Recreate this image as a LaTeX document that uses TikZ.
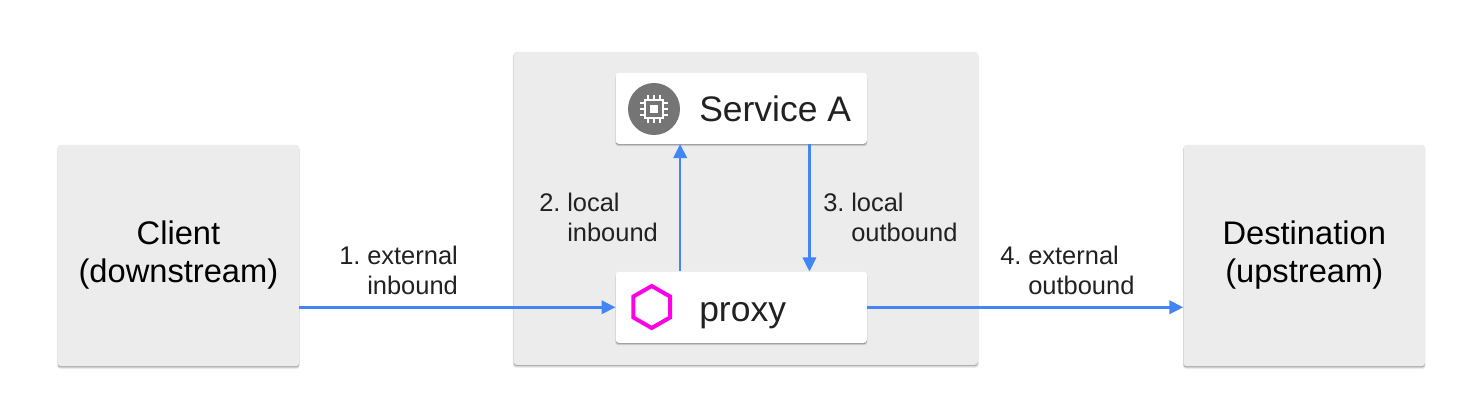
\documentclass[tikz,border=0pt]{standalone}
\usepackage{fontspec}
\setmainfont{Liberation Sans}
\usetikzlibrary{calc,shadows,arrows.meta}
\definecolor{boxgray}{HTML}{ECECEC}
\definecolor{flowblue}{HTML}{4285F4}
\definecolor{hexpink}{HTML}{FF00E6}
\definecolor{chipgray}{HTML}{757575}
\definecolor{inktext}{HTML}{212121}
\tikzset{
  panel/.style={fill=#1,rounded corners=2.2pt,inner sep=0pt,anchor=north west,
    drop shadow={shadow xshift=0pt,shadow yshift=-1.6pt,shadow scale=1.004,fill=black,opacity=.12},
    drop shadow={shadow xshift=0pt,shadow yshift=-1.0pt,fill=black,opacity=.22}},
  bigbox/.style={panel=boxgray,minimum width=181pt,minimum height=166pt,
    font=\fontsize{24.5pt}{28.5pt}\selectfont},
  whitebox/.style={panel=white,minimum width=188.25pt,minimum height=53.25pt},
  svctext/.style={font=\fontsize{26.6pt}{30pt}\selectfont,text=inktext,anchor=base west,inner sep=0pt},
  flowlabel/.style={font=\fontsize{19.1pt}{22.5pt}\selectfont,text=inktext,align=left,anchor=north west,inner sep=0pt},
  flow/.style={draw=flowblue,line width=1.95pt,-{Triangle[length=10.5pt,width=10pt]}},
  pin/.style={draw=white,line width=1.2pt}
}
\newcommand{\hang}[2]{\makebox[21pt][l]{#1}#2}
\newcommand{\bigtext}[2]{\raisebox{-0.7pt}{\parbox{175pt}{\centering #1\\#2}}}
\begin{document}
\begin{tikzpicture}[x=0.75pt,y=-0.75pt]
\useasboundingbox[fill=white] (0,0) rectangle (1467,413);
\node[bigbox] (client) at (57.5,144.5) {\bigtext{Client}{(downstream)}};
\node[bigbox] (dest) at (1183.3,144.5) {\bigtext{Destination}{(upstream)}};
\node[panel=boxgray,minimum width=348pt,minimum height=234.75pt] (host) at (513.5,51.5) {};
\node[whitebox] (svc) at (615.5,72.5) {};
\node[whitebox] (proxy) at (615.5,271.5) {};
% service icon
\fill[chipgray] (654,109) circle (26);
\draw[white,line width=1.5pt] (645,100) rectangle (663,118);
\fill[white] (650,105) rectangle (658,113);
\foreach \d in {-6,0,6}{
  \draw[pin] (654+\d,95) -- (654+\d,100);
  \draw[pin] (654+\d,118) -- (654+\d,123);
  \draw[pin] (640,109+\d) -- (645,109+\d);
  \draw[pin] (663,109+\d) -- (668,109+\d);
}
% proxy icon
\draw[hexpink,line width=3pt,line join=miter]
  (651.7,286) -- (670,296.5) -- (670,317.5) -- (651.7,328) -- (633.4,317.5) -- (633.4,296.5) -- cycle;
\node[svctext] (svcname) at (699,122) {Service A};
\node[svctext] (proxyname) at (699,321) {proxy};
% connectors
\draw[flow] (client.east |- proxy.west) -- (proxy.west);
\draw[flow] (proxy.east) -- (dest.west |- proxy.east);
\draw[flow] ($(proxy.north west)!0.257!(proxy.north east)$) -- ($(svc.south west)!0.257!(svc.south east)$);
\draw[flow] ($(svc.south west)!0.771!(svc.south east)$) -- ($(proxy.north west)!0.771!(proxy.north east)$);
% labels
\node[flowlabel] (l1) at (339,246) {\hang{1.}{external}\\\hspace*{21pt}inbound};
\node[flowlabel] (l2) at (539,193) {\hang{2.}{local}\\\hspace*{21pt}inbound};
\node[flowlabel] (l3) at (823,193) {\hang{3.}{local}\\\hspace*{21pt}outbound};
\node[flowlabel] (l4) at (1000,246) {\hang{4.}{external}\\\hspace*{21pt}outbound};
\end{tikzpicture}
\end{document}
